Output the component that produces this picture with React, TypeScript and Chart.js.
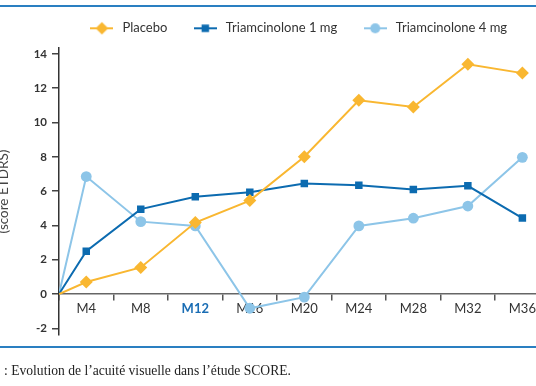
import React, { useEffect, useRef } from 'react';
import { Chart, registerables } from 'chart.js';

Chart.register(...registerables);

// ---- data ----
const categories = ['M4', 'M8', 'M12', 'M16', 'M20', 'M24', 'M28', 'M32', 'M36'];
const highlightedCategory = 'M12';
const baselineValue = 0;
const placebo = [0.7, 1.55, 4.17, 5.45, 8.0, 11.3, 10.9, 13.4, 12.88];
const triamcinolone1 = [2.5, 4.95, 5.67, 5.93, 6.45, 6.34, 6.1, 6.31, 4.43];
const triamcinolone4 = [6.85, 4.22, 3.97, -0.83, -0.18, 3.97, 4.42, 5.13, 7.97];
const seriesNames = ['Placebo', 'Triamcinolone 1 mg', 'Triamcinolone 4 mg'];
const yTickValues = [-2, 0, 2, 4, 6, 8, 10, 12, 14];
const yAxisTitle = '(score ETDRS)';
const captionText = ': Evolution de l’acuité visuelle dans l’étude SCORE.';

// ---- styles ----
const COLORS = ['#F9B731', '#0C6BB0', '#8DC5E8'];
const POINT_STYLES = ['rectRot', 'rect', 'circle'];
const POINT_RADII = [6.5, 5.3, 5.4];
const RULE_BLUE = '#2A7FC1';
const TEXT = '#333333';
const SANS = 'Lato, "Open Sans", sans-serif';

function toPoints(values: number[]) {
  // baseline point sits on the left edge of the axis (half a category before M4)
  return [{ x: 0.5, y: baselineValue }, ...values.map((v, i) => ({ x: i + 1, y: v }))];
}

function makeMarker(style: string, color: string, r: number): HTMLCanvasElement {
  const c = document.createElement('canvas');
  c.width = 23;
  c.height = 14;
  const g = c.getContext('2d') as CanvasRenderingContext2D;
  g.strokeStyle = color;
  g.lineWidth = 2;
  g.beginPath();
  g.moveTo(0, 7);
  g.lineTo(23, 7);
  g.stroke();
  g.fillStyle = color;
  const cx = 11.5;
  const cy = 7;
  g.beginPath();
  if (style === 'rectRot') {
    const d = 6.3;
    g.moveTo(cx, cy - d);
    g.lineTo(cx + d, cy);
    g.lineTo(cx, cy + d);
    g.lineTo(cx - d, cy);
    g.closePath();
  } else if (style === 'rect') {
    const s = r * Math.SQRT1_2;
    g.rect(cx - s, cy - s, 2 * s, 2 * s);
  } else {
    g.arc(cx, cy, 5, 0, Math.PI * 2);
  }
  g.fill();
  return c;
}

export default function App() {
  const canvasRef = useRef<HTMLCanvasElement | null>(null);

  useEffect(() => {
    const canvas = canvasRef.current;
    if (!canvas) return;
    const seriesValues = [placebo, triamcinolone1, triamcinolone4];
    const markers = seriesNames.map((_, i) => makeMarker(POINT_STYLES[i], COLORS[i], POINT_RADII[i]));

    const chart = new Chart(canvas, {
      type: 'line',
      data: {
        datasets: seriesNames.map((name, i) => ({
          label: name,
          data: toPoints(seriesValues[i]),
          borderColor: COLORS[i],
          backgroundColor: COLORS[i],
          borderWidth: 2,
          pointStyle: POINT_STYLES[i] as any,
          pointRadius: (ctx: any) => (ctx.dataIndex === 0 ? 0 : POINT_RADII[i]),
          pointBorderWidth: 0,
          pointBackgroundColor: COLORS[i],
          tension: 0,
          fill: false,
        })),
      },
      options: {
        animation: false,
        responsive: false,
        devicePixelRatio: 1,
        events: [],
        layout: { padding: { top: -2.2, left: 0, right: 20, bottom: 50.8 } },
        plugins: {
          tooltip: { enabled: false },
          legend: {
            display: true,
            position: 'top',
            fullSize: false,
            align: 'center',
            labels: {
              usePointStyle: true,
              pointStyleWidth: 28,
              padding: 24,
              color: TEXT,
              font: { family: SANS, size: 13 },
              generateLabels: (ch: any) =>
                ch.data.datasets.map((ds: any, i: number) => ({
                  text: ds.label,
                  pointStyle: markers[i],
                  fillStyle: COLORS[i],
                  strokeStyle: COLORS[i],
                  lineWidth: 0,
                  hidden: false,
                  datasetIndex: i,
                  fontColor: TEXT,
                })),
            },
          },
          title: {
            display: true,
            text: '',
            position: 'top',
            weight: 500,
            font: { size: 1 },
            padding: { top: 1.9, bottom: 0 },
          } as any,
        },
        scales: {
          x: {
            type: 'linear',
            position: { y: 0 } as any,
            min: 0.5,
            max: 9.25,
            afterBuildTicks: (scale: any) => {
              scale.ticks = categories.map((_, i) => ({ value: i + 1 }));
            },
            ticks: {
              autoSkip: false,
              maxRotation: 0,
              padding: 1,
              callback: (_v: any, index: number) => categories[index],
              color: (ctx: any) => (categories[ctx.index] === highlightedCategory ? '#1A6DB4' : TEXT),
              font: (ctx: any) =>
                categories[ctx.index] === highlightedCategory
                  ? { family: SANS, size: 13, weight: 'bold' }
                  : { family: SANS, size: 13 },
            },
            grid: {
              offset: true,
              drawOnChartArea: false,
              drawTicks: true,
              tickLength: 6,
              color: '#555555',
              lineWidth: 1.5,
            },
            border: { display: true, color: '#666666', width: 1.5 },
          },
          y: {
            type: 'linear',
            min: -2.4,
            max: 14.35,
            afterFit: (scale: any) => {
              scale.width = 71;
            },
            afterBuildTicks: (scale: any) => {
              scale.ticks = yTickValues.map((v) => ({ value: v }));
            },
            ticks: {
              padding: 5,
              color: TEXT,
              font: { family: SANS, size: 11.5, weight: 'bold' },
              callback: (v: any) => String(v),
            },
            grid: {
              drawOnChartArea: false,
              drawTicks: true,
              tickLength: 7,
              color: '#444444',
              lineWidth: 1.5,
            },
            border: { display: true, color: '#333333', width: 1.5 },
            title: {
              display: true,
              text: yAxisTitle,
              color: '#444444',
              font: { family: SANS, size: 13.5 },
              padding: { top: 7.2, bottom: 0 },
            },
          },
        },
      },
    });
    return () => chart.destroy();
  }, []);

  return (
    <div
      style={{
        position: 'fixed',
        left: 0,
        top: 0,
        width: 536,
        height: 386,
        overflow: 'hidden',
        background: '#ffffff',
      }}
    >
      <div style={{ position: 'absolute', left: 0, top: 5, width: 536, height: 2, background: RULE_BLUE }} />
      <canvas
        ref={canvasRef}
        width={568}
        height={386}
        style={{ position: 'absolute', left: -12, top: 0, width: 568, height: 386 }}
      />
      <div style={{ position: 'absolute', left: 0, top: 346, width: 536, height: 2, background: RULE_BLUE }} />
      <div
        style={{
          position: 'absolute',
          left: 4,
          top: 363,
          fontFamily: '"Liberation Serif", "DejaVu Serif", serif',
          fontSize: 13.6,
          color: '#222222',
          whiteSpace: 'nowrap',
        }}
      >
        {captionText}
      </div>
    </div>
  );
}
